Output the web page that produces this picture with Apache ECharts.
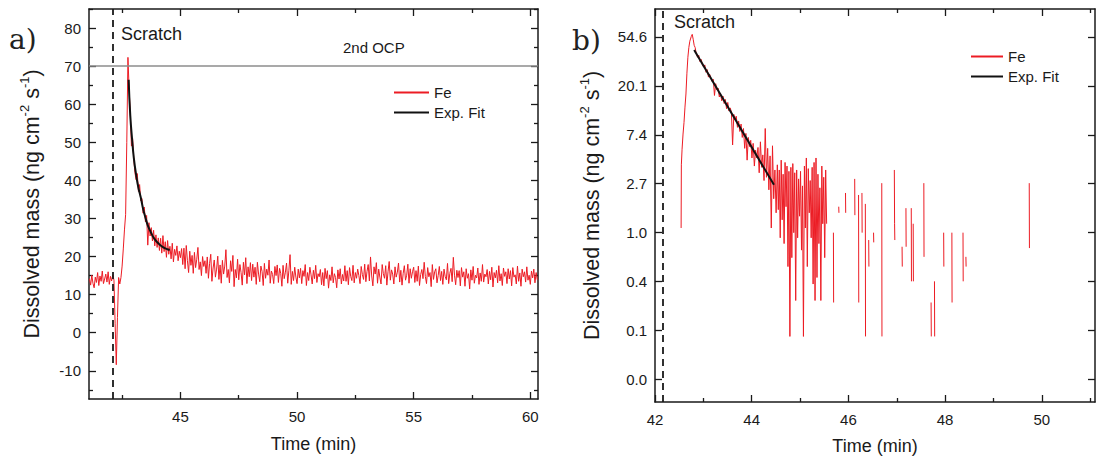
<!DOCTYPE html>
<html>
<head>
<meta charset="utf-8">
<script src="https://cdn.jsdelivr.net/npm/echarts@6/dist/echarts.min.js"></script>
<style>html,body{margin:0;padding:0;background:#fff;}#c{width:1096px;height:461px;}</style>
</head>
<body>
<div id="c"></div>
<script>
// ---------- Panel a) : Fe dissolution rate, linear axis ----------
const feT0 = 41.1;        // first sample time (min)
const feDt = 0.05;        // sampling step (min)
const feValues = [
 14.2, 12.5, 15.1, 13.0, 11.8, 14.6, 13.2, 15.8, 12.4, 14.9, 13.5, 16.2, 12.9, 14.1, 15.4, 13.3, 16.0, 12.7, 14.8, 13.6,
 15.2, 13.8, 2.5, -8.4, 4.0, 14.5, 12.8, 14.5, 17.5, 22.0, 27.0, 31.0, 50.0, 72.3, 64.0, 57.5, 49.0, 51.0, 45.5, 42.0,
 40.2, 41.8, 37.1, 38.9, 34.6, 35.2, 31.4, 33.0, 29.1, 30.8, 23.0, 28.9, 25.4, 27.6, 24.1, 26.9, 22.8, 25.7, 22.4, 24.9,
 21.6, 24.8, 20.9, 25.5, 21.3, 23.9, 19.8, 24.2, 20.6, 22.7, 19.4, 23.5, 18.6, 21.9, 20.3, 22.8, 18.9, 21.4, 19.7, 22.1,
 17.9, 22.2, 16.8, 22.9, 18.9, 15.8, 21.4, 17.7, 20.3, 15.6, 21.1, 17.1, 19.3, 22.4, 16.6, 18.6, 15.0, 20.0, 17.4, 18.9,
 15.6, 19.9, 14.3, 18.2, 20.6, 13.5, 17.0, 19.1, 14.6, 16.7, 20.1, 14.0, 17.8, 13.0, 19.0, 15.4, 17.5, 21.8, 14.5, 16.6,
 13.1, 18.9, 16.1, 20.3, 12.1, 16.6, 14.4, 19.3, 13.9, 17.9, 15.8, 12.5, 18.5, 15.2, 19.7, 12.9, 17.3, 14.7, 18.4, 13.7,
 18.0, 14.6, 17.2, 12.7, 18.5, 15.4, 13.4, 17.5, 16.1, 12.4, 18.2, 14.3, 16.7, 15.1, 19.1, 13.0, 16.2, 15.3, 12.9, 17.4,
 15.0, 17.8, 13.2, 16.9, 15.6, 12.2, 17.7, 14.2, 15.9, 18.3, 13.0, 16.4, 20.5, 12.7, 16.1, 13.7, 17.2, 14.6, 12.9, 16.7,
 14.4, 16.9, 12.9, 16.3, 14.8, 17.9, 12.4, 15.8, 13.7, 17.2, 15.2, 12.8, 16.4, 14.2, 17.7, 13.2, 15.5, 14.7, 16.6, 12.6,
 15.8, 12.3, 16.9, 14.2, 16.3, 11.7, 15.2, 13.7, 17.3, 13.1, 15.5, 14.5, 11.8, 16.5, 14.1, 16.8, 12.8, 15.3, 13.6, 17.6,
 13.5, 16.3, 12.6, 17.1, 14.8, 13.7, 17.7, 13.1, 15.8, 14.3, 16.7, 15.0, 12.9, 17.4, 15.3, 14.0, 18.0, 13.4, 16.1, 17.9,
 13.6, 19.9, 14.9, 12.3, 17.3, 15.4, 18.4, 13.0, 16.7, 14.6, 12.8, 17.9, 15.5, 14.3, 17.6, 12.5, 16.0, 18.7, 13.8, 16.5,
 15.4, 12.8, 17.3, 14.6, 15.9, 18.3, 13.3, 16.4, 12.5, 15.6, 17.6, 13.8, 15.1, 18.0, 13.0, 16.8, 14.3, 16.0, 17.2, 13.2,
 16.3, 13.5, 17.5, 12.4, 15.3, 16.6, 14.2, 18.5, 14.8, 12.9, 17.1, 14.7, 15.8, 12.1, 17.9, 14.0, 16.0, 16.8, 13.1, 15.0,
 17.4, 13.7, 16.1, 12.7, 16.7, 14.8, 13.9, 18.2, 12.9, 15.6, 16.9, 13.4, 19.8, 15.1, 12.6, 16.4, 14.5, 16.3, 12.3, 17.1,
 14.6, 16.0, 12.2, 16.8, 14.3, 15.5, 11.5, 16.5, 13.8, 17.4, 13.0, 15.1, 14.4, 17.0, 12.7, 15.7, 13.5, 17.9, 13.3, 15.4,
 14.7, 16.6, 12.8, 16.1, 13.9, 17.2, 12.0, 15.8, 14.4, 16.4, 13.1, 17.6, 13.6, 15.5, 12.4, 17.0, 14.8, 16.0, 12.9, 16.8,
 14.1, 16.3, 12.3, 17.1, 14.6, 15.2, 12.8, 17.5, 13.5, 15.7, 12.2, 16.7, 14.7, 16.0, 13.3, 17.3, 13.8, 15.1, 12.7, 16.2,
 14.4, 16.7, 13.1, 15.8, 13.9
];
const fitTimeA  = [42.78, 42.85, 42.93, 43.0, 43.1, 43.2, 43.3, 43.4, 43.5, 43.6, 43.7, 43.8, 43.9, 44.0, 44.1, 44.2, 44.3, 44.4, 44.54];
const fitValueA = [66.4, 57.0, 50.6, 46.0, 41.5, 38.0, 35.5, 32.5, 30.2, 28.2, 26.8, 25.5, 24.5, 23.8, 23.2, 22.7, 22.3, 22.0, 21.7];
const scratchA = 42.09;
const ocpLevel = 70;
const xTicksA = [45, 50, 55, 60];
const xMinorA = [42.5, 47.5, 52.5, 57.5];
const yTicksA = [-10, 0, 10, 20, 30, 40, 50, 60, 70, 80];
const yMinorA = [-15, -5, 5, 15, 25, 35, 45, 55, 65, 75, 85];

// ---------- Panel b) : Fe dissolution rate, ln axis ----------
const rTime = [
 42.54, 42.545, 42.56, 42.58, 42.60, 42.62, 42.64, 42.66, 42.68, 42.70, 42.72, 42.75, 42.77, 42.79, 42.81, 42.83,
 42.855, 42.88, 42.905, 42.93, 42.955, 42.98, 43.005, 43.03, 43.055, 43.08, 43.105, 43.13, 43.155, 43.18, 43.205, 43.23,
 43.255, 43.28, 43.305, 43.33, 43.355, 43.38, 43.405, 43.43, 43.455, 43.48, 43.505, 43.53, 43.555, 43.58, 43.605, 43.63,
 43.655, 43.68, 43.705, 43.73, 43.755, 43.78, 43.805, 43.83, 43.855, 43.88, 43.905, 43.93, 43.955, 43.98, 44.005, 44.03,
 44.055, 44.08, 44.105, 44.13, 44.155, 44.18, 44.205, 44.23, 44.255, 44.28, 44.305, 44.33, 44.355, 44.38, 44.405, 44.43,
 44.455, 44.48, 44.505,
 44.53, 44.55, 44.57, 44.59, 44.61, 44.63, 44.65, 44.67, 44.69, 44.71, 44.73, 44.75, 44.77, 44.79, 44.81, 44.83,
 44.85, 44.87, 44.89, 44.91, 44.93, 44.95, 44.97, 44.99, 45.01, 45.03, 45.05, 45.07, 45.09, 45.11, 45.13, 45.15,
 45.17, 45.19, 45.21, 45.23, 45.25, 45.27, 45.29, 45.31, 45.33, 45.35, 45.37, 45.39, 45.41, 45.43, 45.45, 45.47,
 45.49, 45.51, 45.53, 45.55, 45.57,
 45.69, 45.694, 45.70,  45.80, 45.804, 45.81,  45.94, 45.944, 45.95,  46.13, 46.134, 46.14,
 46.21, 46.214, 46.22,  46.28, 46.284, 46.29,  46.35, 46.354, 46.36,  46.42, 46.424, 46.43,
 46.52, 46.524, 46.53,  46.69, 46.694, 46.70,  46.95, 46.955, 46.96, 46.965,  47.11, 47.114, 47.12,
 47.19, 47.194, 47.20,  47.30, 47.304, 47.31,  47.34, 47.344, 47.35,  47.56, 47.564, 47.57,
 47.71, 47.714, 47.72,  47.78, 47.784, 47.79,  47.97, 47.974, 47.98,  48.14, 48.144, 48.15,
 48.37, 48.374, 48.38,  48.43, 48.434, 48.44,  49.74, 49.744
];
const rValue = [
 1.1, 4.0, 5.5, 7.5, 9.5, 13, 17, 26, 36, 44, 50, 55, 57.5, 52, 46, 44,
 38.5, 36.0, 37.5, 33.0, 34.5, 31.0, 29.5, 30.8, 26.5, 28.0, 24.0, 25.5, 23.5, 22.0, 23.0, 16.5,
 21.0, 18.5, 19.2, 16.0, 17.2, 14.8, 16.3, 14.0, 15.2, 12.6, 14.3, 12.0, 12.8, 11.8, 6.0, 11.2,
 10.0, 10.8, 8.6, 9.8, 7.9, 9.2, 7.0, 8.4, 5.6, 7.6, 4.4, 7.0, 5.8, 6.6, 4.6, 6.2,
 3.9, 5.4, 4.6, 5.7, 3.4, 6.4, 3.8, 4.9, 2.9, 8.4, 3.1, 5.6, 2.4, 4.8, 1.1, 5.9,
 2.0, 3.6, 1.5,
 4.0, 1.6, 3.6, 0.9, 4.4, 1.3, 3.3, 0.8, 4.2, 1.7, 3.9, 0.5, 3.5, 0.12, 3.8, 0.6,
 4.1, 1.0, 3.4, 0.25, 3.6, 0.9, 3.0, 1.4, 3.5, 0.7, 2.6, 0.12, 3.9, 1.1, 4.6, 0.5,
 3.7, 1.5, 2.9, 0.9, 3.8, 0.35, 4.2, 0.25, 4.6, 0.4, 3.3, 0.8, 2.5, 0.25, 3.9, 1.2,
 3.1, 0.6, 3.6, 1.2, null,
 1.0, 0.24, null,  1.7, 1.5, null,  2.25, 1.5, null,  3.0, 1.43, null,
 2.16, 0.24, null,  2.25, 1.0, null,  1.8, 0.12, null,  0.86, 0.5, null,
 1.0, 0.82, null,  2.75, 0.12, null,  3.6, 1.2, 0.86, null,  0.75, 0.5, null,
 1.65, 0.75, null,  1.65, 0.37, null,  1.2, 0.37, null,  2.75, 0.61, null,
 0.24, 0.12, null,  0.37, 0.12, null,  1.0, 0.5, null,  1.0, 0.24, null,
 1.0, 0.37, null,  0.61, 0.5, null,  2.75, 0.73
];
const fitTimeB  = [42.81, 44.46];
const fitValueB = [41.7, 2.66];
const scratchB = 42.17;
const xTicksB = [42, 44, 46, 48, 50];
const xMinorB = [43, 45, 47, 49, 51];
const yExpB = [-3, -2, -1, 0, 1, 2, 3, 4];   // ticks at e^n

// ---------- build ----------
const FONT = "'Liberation Sans', Arial, Helvetica, sans-serif";
const INK = '#1a1a1a';
const RED = '#ec1c24';

const feData = feValues.map((v, i) => [feT0 + i * feDt, v]);
const fitDataA = fitTimeA.map((t, i) => [t, fitValueA[i]]);
const rData = rTime.map((t, i) => [t, rValue[i]]);
const fitDataB = fitTimeB.map((t, i) => [t, fitValueB[i]]);
const yTicksB = yExpB.map(n => Math.exp(n));

function ax(o) {
  const a = {
    type: o.type || 'value', gridIndex: o.grid, position: o.pos,
    min: o.min, max: o.max,
    axisLine: o.line ? { show: true, onZero: false, lineStyle: { color: INK, width: 1.5 } } : { show: false, onZero: false },
    axisTick: { show: true, inside: true, length: o.len, customValues: o.ticks, lineStyle: { color: INK, width: 1.3 } },
    axisLabel: o.labels ? { show: true, customValues: o.ticks, margin: o.margin, fontSize: 15, color: INK, fontFamily: FONT, formatter: o.fmt } : { show: false },
    splitLine: { show: false },
    minorTick: { show: false },
    axisPointer: { show: false }
  };
  if (o.type === 'log') a.logBase = Math.E;
  if (o.name) {
    a.name = o.name; a.nameLocation = 'middle'; a.nameGap = o.nameGap;
    a.nameTextStyle = { fontSize: o.nameSize, color: INK, fontFamily: FONT, lineHeight: o.sup ? 28 : undefined,
      rich: { sup: { fontSize: 13, lineHeight: 13, verticalAlign: 'top', color: INK, fontFamily: FONT } } };
  }
  return a;
}

const yName = 'Dissolved mass (ng cm{sup|-2} s{sup|-1})';
const xMinA = 41.08, xMaxA = 60.33, yMinA = -17.4, yMaxA = 85;
const xMinB = 42, xMaxB = 51.1, yMinB = Math.exp(-3.46), yMaxB = Math.exp(4.57);
const fmtInt = v => String(Math.round(v));

const legendBase = {
  data: ['Fe', 'Exp. Fit'], orient: 'vertical', itemHeight: 14, itemGap: 5, selectedMode: false,
  itemStyle: { opacity: 0, borderWidth: 0 },
  textStyle: { fontSize: 15, color: INK, fontFamily: FONT }
};

const option = {
  animation: false,
  backgroundColor: '#fff',
  grid: [
    { left: 89, right: 558, top: 9, bottom: 62, outerBoundsMode: 'none', containLabel: false },
    { left: 655, right: 1, top: 9, bottom: 59, outerBoundsMode: 'none', containLabel: false }
  ],
  xAxis: [
    ax({ grid: 0, pos: 'bottom', min: xMinA, max: xMaxA, line: true, len: 7, ticks: xTicksA, labels: true, margin: 10, fmt: fmtInt, name: 'Time (min)', nameGap: 36, nameSize: 18 }),
    ax({ grid: 0, pos: 'top', min: xMinA, max: xMaxA, line: true, len: 7, ticks: xTicksA }),
    ax({ grid: 0, pos: 'bottom', min: xMinA, max: xMaxA, line: false, len: 4, ticks: xMinorA }),
    ax({ grid: 0, pos: 'top', min: xMinA, max: xMaxA, line: false, len: 4, ticks: xMinorA }),
    ax({ grid: 1, pos: 'bottom', min: xMinB, max: xMaxB, line: true, len: 7, ticks: xTicksB, labels: true, margin: 10, fmt: fmtInt, name: 'Time (min)', nameGap: 35, nameSize: 18 }),
    ax({ grid: 1, pos: 'top', min: xMinB, max: xMaxB, line: true, len: 7, ticks: xTicksB }),
    ax({ grid: 1, pos: 'bottom', min: xMinB, max: xMaxB, line: false, len: 4, ticks: xMinorB }),
    ax({ grid: 1, pos: 'top', min: xMinB, max: xMaxB, line: false, len: 4, ticks: xMinorB })
  ],
  yAxis: [
    ax({ grid: 0, pos: 'left', min: yMinA, max: yMaxA, line: true, len: 7, ticks: yTicksA, labels: true, margin: 8, fmt: fmtInt, name: yName, nameGap: 43, nameSize: 21.5, sup: true }),
    ax({ grid: 0, pos: 'right', min: yMinA, max: yMaxA, line: true, len: 7, ticks: yTicksA }),
    ax({ grid: 0, pos: 'left', min: yMinA, max: yMaxA, line: false, len: 4, ticks: yMinorA }),
    ax({ grid: 0, pos: 'right', min: yMinA, max: yMaxA, line: false, len: 4, ticks: yMinorA }),
    ax({ grid: 1, type: 'log', pos: 'left', min: yMinB, max: yMaxB, line: true, len: 7, ticks: yTicksB, labels: true, margin: 8, fmt: v => v.toFixed(1), name: yName, nameGap: 49, nameSize: 21.5, sup: true }),
    ax({ grid: 1, type: 'log', pos: 'right', min: yMinB, max: yMaxB, line: true, len: 7, ticks: yTicksB })
  ],
  legend: [
    Object.assign({}, legendBase, { left: 388, top: 80, itemWidth: 35 }),
    Object.assign({}, legendBase, { left: 965, top: 44, itemWidth: 32 })
  ],
  series: [
    { name: 'Fe', type: 'line', xAxisIndex: 0, yAxisIndex: 0, data: feData, symbol: 'none', showSymbol: false,
      lineStyle: { color: RED, width: 1 }, itemStyle: { color: RED }, z: 2,
      markLine: { silent: true, symbol: ['none', 'none'], label: { show: false },
        data: [
          { xAxis: scratchA, lineStyle: { color: INK, width: 1.8, type: [7, 5] } },
          { yAxis: ocpLevel, lineStyle: { color: '#8c8c8c', width: 1.5, type: 'solid' } }
        ] } },
    { name: 'Exp. Fit', type: 'line', xAxisIndex: 0, yAxisIndex: 0, data: fitDataA, symbol: 'none', showSymbol: false, smooth: true,
      lineStyle: { color: '#111', width: 2 }, itemStyle: { color: '#111' }, z: 3 },
    { name: 'Fe', type: 'line', xAxisIndex: 4, yAxisIndex: 4, data: rData, symbol: 'none', showSymbol: false, connectNulls: false,
      lineStyle: { color: RED, width: 1 }, itemStyle: { color: RED }, z: 2,
      markLine: { silent: true, symbol: ['none', 'none'], label: { show: false },
        data: [ { xAxis: scratchB, lineStyle: { color: INK, width: 1.8, type: [7, 5] } } ] } },
    { name: 'Exp. Fit', type: 'line', xAxisIndex: 4, yAxisIndex: 4, data: fitDataB, symbol: 'none', showSymbol: false,
      lineStyle: { color: '#111', width: 2 }, itemStyle: { color: '#111' }, z: 3 }
  ],
  graphic: [
    { type: 'text', x: 121, y: 34, style: { text: 'Scratch', fontSize: 18, fontFamily: FONT, fill: INK, verticalAlign: 'middle', align: 'left' } },
    { type: 'text', x: 674, y: 22, style: { text: 'Scratch', fontSize: 18, fontFamily: FONT, fill: INK, verticalAlign: 'middle', align: 'left' } },
    { type: 'text', x: 343, y: 47, style: { text: '2nd OCP', fontSize: 15, fontFamily: FONT, fill: INK, verticalAlign: 'middle', align: 'left' } },
    { type: 'text', x: 9, y: 39, style: { text: 'a)', fontSize: 28, fontFamily: "'DejaVu Serif', 'Liberation Serif', serif", fill: '#222', verticalAlign: 'middle', align: 'left' } },
    { type: 'text', x: 572, y: 40, style: { text: 'b)', fontSize: 28, fontFamily: "'DejaVu Serif', 'Liberation Serif', serif", fill: '#222', verticalAlign: 'middle', align: 'left' } }
  ]
};

const chart = echarts.init(document.getElementById('c'), null, { renderer: 'svg' });
chart.setOption(option);
</script>
</body>
</html>
